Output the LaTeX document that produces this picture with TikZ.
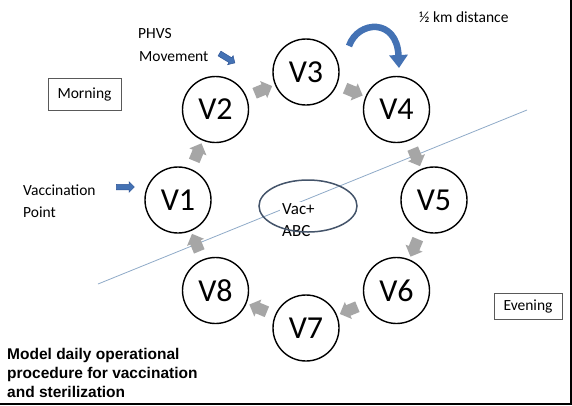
\documentclass[tikz,border=0pt]{standalone}
\usepackage{fontspec}
\setmainfont{Carlito}
\newfontfamily\titlefont{Liberation Sans}
\usetikzlibrary{shapes.geometric,shapes.arrows,arrows.meta}
\definecolor{ringgray}{RGB}{166,166,166}
\definecolor{arrowblue}{RGB}{68,114,180}
\definecolor{arrowblueedge}{RGB}{47,85,151}
\definecolor{ellipseblue}{RGB}{68,84,106}
\definecolor{linecol}{RGB}{143,170,200}
\definecolor{boxedge}{RGB}{89,89,89}
\tikzset{
  stop/.style={circle, draw=black, line width=1.4pt, minimum size=66pt, inner sep=0pt,
    font=\fontsize{32}{38}\selectfont},
  flowarrow/.style={single arrow, fill=ringgray, draw=none, minimum height=19pt,
    inner sep=0pt, inner ysep=5.5pt, single arrow head extend=3.5pt, allow upside down},
  bluearrow/.style={single arrow, fill=arrowblue, draw=arrowblueedge, line width=0.5pt,
    minimum height=18pt, inner sep=0pt, inner ysep=2.5pt, single arrow head extend=2.5pt,
    allow upside down},
  label/.style={anchor=base west, inner sep=0pt, font=\fontsize{15.5}{22}\selectfont},
  timebox/.style={draw=boxedge, line width=0.8pt, inner sep=0pt, font=\fontsize{15.5}{22}\selectfont},
  titleline/.style={anchor=base west, inner sep=0pt, font=\titlefont\bfseries\fontsize{15.5}{19}\selectfont},
}
\begin{document}
\begin{tikzpicture}[x=1pt,y=-1pt]
\useasboundingbox (0,0) rectangle (572,405);
\fill[white] (0,0) rectangle (572,405);
% divider line
\coordinate (l1) at (98,284);
\coordinate (l2) at (527,110);
\draw[linecol, line width=0.8pt] (l1) -- (l2);
% ring of stops
\node[stop] (v1) at (178,200) {V1};
\node[stop] (v2) at (215.5,109.5) {V2};
\node[stop] (v3) at (306,72) {V3};
\node[stop] (v4) at (396.5,109.5) {V4};
\node[stop] (v5) at (434,200) {V5};
\node[stop] (v6) at (396.5,290.5) {V6};
\node[stop] (v7) at (306,328) {V7};
\node[stop] (v8) at (215.5,290.5) {V8};
\path (v1) -- (v2) node[midway, sloped, flowarrow] (a12) {};
\path (v2) -- (v3) node[midway, sloped, flowarrow] (a23) {};
\path (v3) -- (v4) node[midway, sloped, flowarrow] (a34) {};
\path (v4) -- (v5) node[midway, sloped, flowarrow] (a45) {};
\path (v5) -- (v6) node[midway, sloped, flowarrow] (a56) {};
\path (v6) -- (v7) node[midway, sloped, flowarrow] (a67) {};
\path (v7) -- (v8) node[midway, sloped, flowarrow] (a78) {};
\path (v8) -- (v1) node[midway, sloped, flowarrow] (a81) {};
% centre
\node[anchor=north west, fill=white, inner xsep=2pt, inner ysep=1pt, align=left,
  font=\fontsize{17}{22}\selectfont] (vac) at (280,202) {Vac+\\ABC};
\node[ellipse, draw=ellipseblue, line width=1.5pt, minimum width=98pt, minimum height=52pt,
  inner sep=0pt] (hub) at (308,206) {};
% time boxes
\node[timebox, minimum width=73pt, minimum height=32pt] (morning) at (84.5,94) {Morning};
\node[timebox, minimum width=68pt, minimum height=26pt] (evening) at (528,306) {Evening};
% side labels
\node[label] (phvs) at (138,38) {PHVS};
\node[label] (move) at (139,61) {Movement};
\node[label] (vacc) at (23,195) {Vaccination};
\node[label] (point) at (23,217) {Point};
\node[label] (dist) at (419,22) {½ km distance};
% small blue arrows
\coordinate (mvA) at (217,52);
\coordinate (mvB) at (235,63);
\path (mvA) -- (mvB) node[midway, sloped, bluearrow] (mvarrow) {};
\coordinate (vpA) at (115,187);
\coordinate (vpB) at (133,187);
\path (vpA) -- (vpB) node[midway, sloped, bluearrow] (vparrow) {};
% curved distance arrow
\coordinate (ca1) at (349,46);
\coordinate (ca2) at (399,68);
\draw[arrowblue, line width=6.5pt, -{Triangle[length=13pt,width=18pt]}]
  (ca1) .. controls (358,20) and (397,18) .. (ca2);
% title
\node[titleline] (t1) at (7,359) {Model daily operational};
\node[titleline] (t2) at (7,378) {procedure for vaccination};
\node[titleline] (t3) at (7,397) {and sterilization};
% frame edges
\draw[black, line width=2pt] (571,0) -- (571,404) -- (0,404);
\end{tikzpicture}
\end{document}
